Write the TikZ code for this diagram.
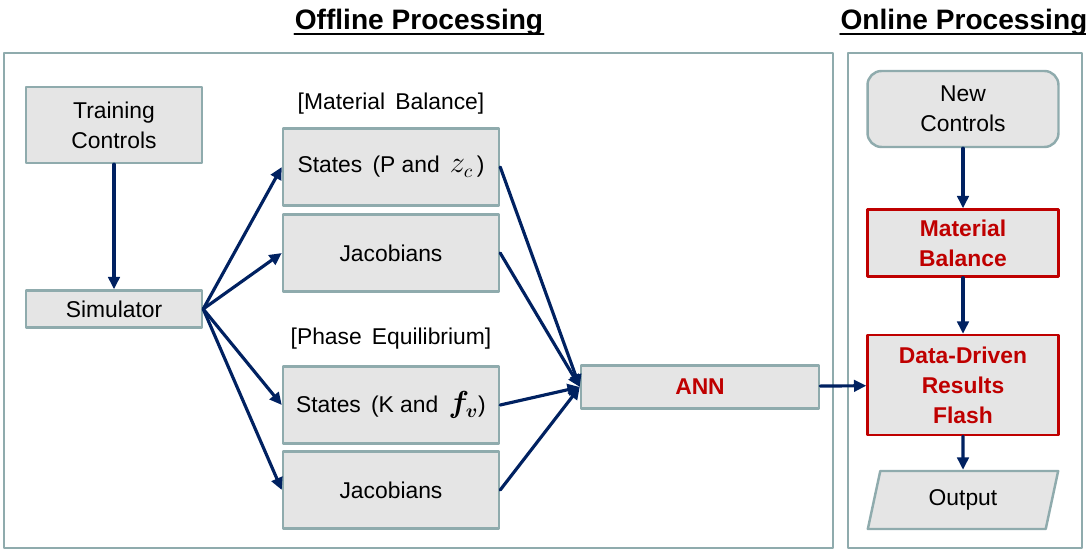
\documentclass[tikz,border=0pt]{standalone}
\usepackage{amsmath}
\usepackage{fontspec}
\setmainfont{Liberation Sans}
\usetikzlibrary{arrows.meta,shapes.geometric}
\definecolor{eeeeee}{rgb}{0.9,0.9,0.9}
\definecolor{99aaaa}{rgb}{0.56,0.67,0.68}
\definecolor{qq2266}{rgb}{0,0.13,0.38}
\definecolor{ccqqqq}{rgb}{0.75,0,0}

\begin{document}
\begin{tikzpicture}[line cap=round,line join=round,>={Triangle[length=7pt,width=6.5pt]},x=0.02cm,y=-0.02cm,
	box/.style={draw=99aaaa,fill=eeeeee,line width=1.4pt,inner sep=0pt,align=center,font=\fontsize{13}{17}\selectfont},
	redbox/.style={box,draw=ccqqqq,text=ccqqqq,font=\fontsize{13}{17}\selectfont\bfseries},
	flow/.style={->,draw=qq2266,line width=1.8pt},
	frame/.style={draw=99aaaa,line width=1.1pt},
	title/.style={inner sep=0pt,anchor=base,font=\fontsize{16}{19}\selectfont\bfseries},
	tag/.style={inner sep=0pt,anchor=base,font=\fontsize{13}{17}\selectfont}]
	\useasboundingbox (0,0) rectangle (1086,550);
	% frames and titles
	\draw [frame] (4,53) rectangle (833,548);
	\draw [frame] (848,53) rectangle (1082,548);
	\node[title] (offline) at (419,30) {Offline Processing};
	\node[title] (online) at (964,30) {Online Processing};
		\draw [line width=1.2pt] ([yshift=-2.5pt]offline.base west) -- ([yshift=-2.5pt]offline.base east);
		\draw [line width=1.2pt] ([yshift=-2.5pt]online.base west) -- ([yshift=-2.5pt]online.base east);
	% offline part
	\node[box,minimum width=3.52cm,minimum height=1.52cm] (train) at (114,125) {Training\\Controls};
	\node[box,minimum width=3.52cm,minimum height=0.74cm] (sim) at (114,309) {Simulator};
	\node[tag] (mbtag) at (391,110) {[Material\, Balance]};
	\node[box,minimum width=4.32cm,minimum height=1.54cm] (statesmb) at (391,167) {States\, (P and\, {\fontsize{16}{17}\selectfont$z_c$}\,)};
	\node[box,minimum width=4.32cm,minimum height=1.54cm] (jacmb) at (391,253) {Jacobians};
	\node[tag] (petag) at (391,345) {[Phase\, Equilibrium]};
	\node[box,minimum width=4.32cm,minimum height=1.54cm] (statespe) at (391,405) {States\, (K and\, {\fontsize{16}{17}\selectfont$\boldsymbol{f_v}$})};
	\node[box,minimum width=4.32cm,minimum height=1.54cm] (jacpe) at (391,490) {Jacobians};
	\node[box,text=ccqqqq,font=\fontsize{13}{17}\selectfont\bfseries,minimum width=4.76cm,minimum height=0.86cm] (ann) at (700,387) {ANN};
	% online part
	\node[box,rounded corners=8pt,minimum width=3.82cm,minimum height=1.52cm] (newc) at (963,109) {New\\Controls};
	\node[redbox,minimum width=3.82cm,minimum height=1.34cm] (mb) at (963,243) {Material\\Balance};
	\node[redbox,minimum width=3.82cm,minimum height=2cm] (ddflash) at (963,385) {Data-Driven\\Results\\Flash};
	\node[box,trapezium,trapezium left angle=76,trapezium right angle=104,trapezium stretches=true,minimum width=3.82cm,minimum height=1.16cm] (out) at (963,500) {Output};
	% connectors
	\draw [flow] (train) -- (sim);
	\draw [flow] (sim.east) -- (statesmb.west);
	\draw [flow] (sim.east) -- (jacmb.west);
	\draw [flow] (sim.east) -- (statespe.west);
	\draw [flow] (sim.east) -- (jacpe.west);
	\draw [flow] (statesmb.east) -- (ann.west);
	\draw [flow] (jacmb.east) -- (ann.west);
	\draw [flow] (statespe.east) -- (ann.west);
	\draw [flow] (jacpe.east) -- (ann.west);
	\draw [flow] (ann) -- (ddflash);
	\draw [flow] (newc) -- (mb);
	\draw [flow] (mb) -- (ddflash);
	\draw [flow] (ddflash) -- (out);
\end{tikzpicture}
\end{document}
